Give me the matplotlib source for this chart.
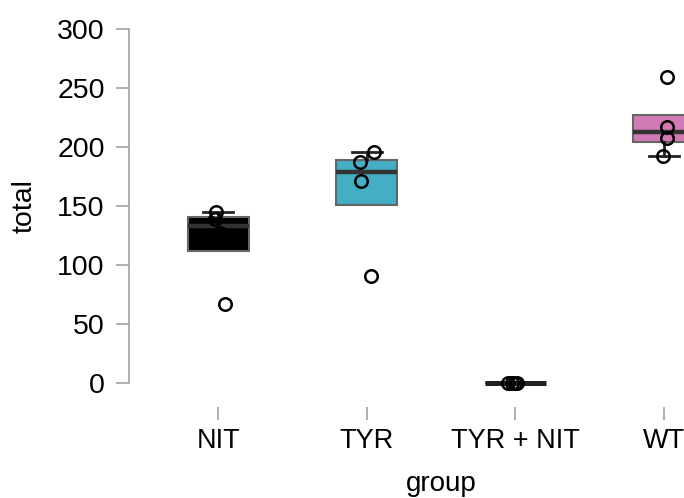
import numpy as np
import matplotlib
matplotlib.use("Agg")
import matplotlib.pyplot as plt
from matplotlib import cbook

plt.rcParams['font.family'] = ['Liberation Sans', 'DejaVu Sans']

groups = ['NIT', 'TYR', 'TYR + NIT', 'WT']
values = [
    [67, 127, 139, 145],
    [91, 171, 187, 196],
    [0, 0, 0, 0],
    [192, 208, 217, 259],
]
# horizontal jitter of the points
jitter = [
    [0.047, 0.01, -0.02, -0.015],
    [0.027, -0.04, -0.047, 0.047],
    [-0.05, -0.02, 0.0, 0.01],
    [-0.007, 0.018, 0.018, 0.02],
]
colors = ['#000000', '#44aec4', '#8a8a8a', '#d27ab6']
yticks = [0, 50, 100, 150, 200, 250, 300]

fig = plt.figure(figsize=(6.84, 4.98), dpi=100)
ax = fig.add_axes([129 / 684, 115 / 498, 624 / 684, 354 / 498])

stats = []
for v in values:
    s = cbook.boxplot_stats(v, whis=1.0)[0]
    s['whislo'] = min(s['whislo'], s['q1'])
    s['whishi'] = max(s['whishi'], s['q3'])
    stats.append(s)

pos = np.arange(len(groups))
bp = ax.bxp(stats, positions=pos, widths=0.41, patch_artist=True,
            showfliers=False, capwidths=0.2,
            boxprops=dict(edgecolor='#666666', linewidth=1.5),
            medianprops=dict(color='#333333', linewidth=3.2, solid_capstyle='butt'),
            whiskerprops=dict(color='#222222', linewidth=2.0),
            capprops=dict(color='#222222', linewidth=2.0))
for patch, c in zip(bp['boxes'], colors):
    patch.set_facecolor(c)
# hide caps of whiskers that have no length
for i, s in enumerate(stats):
    if s['whislo'] == s['q1']:
        bp['caps'][2 * i].set_visible(False)
    if s['whishi'] == s['q3']:
        bp['caps'][2 * i + 1].set_visible(False)
for art in bp['boxes'] + bp['medians'] + bp['whiskers'] + bp['caps']:
    art.set_clip_on(False)
bp['medians'][2].set_color('#222222')
bp['medians'][2].set_linewidth(3.6)

for i, v in enumerate(values):
    ax.plot(pos[i] + np.array(jitter[i]), v, 'o', markersize=9,
            markerfacecolor='none', markeredgecolor='black',
            markeredgewidth=1.8, zorder=5, clip_on=False)

ax.set_xlim(-0.6, 3.6)
ax.set_ylim(0, 300)
ax.set_yticks(yticks)
ax.set_xticks(pos)
ax.set_xticklabels(groups)

for side in ['top', 'right']:
    ax.spines[side].set_visible(False)
ax.spines['left'].set_color('#9a9a9a')
ax.spines['left'].set_linewidth(1.1)
ax.spines['bottom'].set_color('none')
ax.spines['bottom'].set_position(('outward', 17))
ax.tick_params(axis='y', length=9.4, width=1.1, color='#9a9a9a',
               labelsize=20.5, pad=8)
ax.tick_params(axis='x', length=9.6, width=1.1, color='#9a9a9a',
               labelsize=19.5, pad=6)

ax.set_ylabel('total', fontsize=20.5, labelpad=14)
ax.set_xlabel('group', fontsize=20, labelpad=12)

fig.savefig('out.png', dpi=100)
